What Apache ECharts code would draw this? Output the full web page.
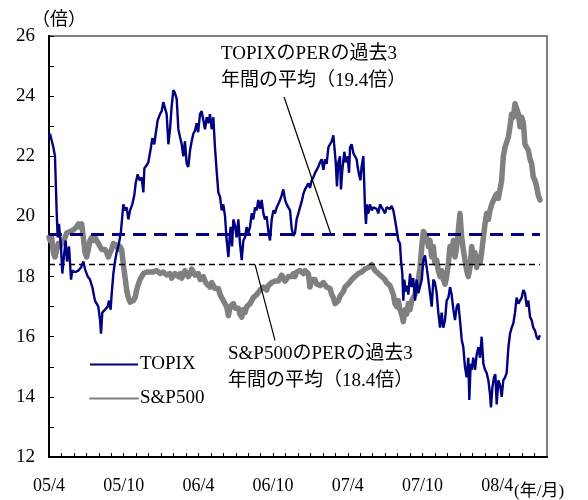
<!DOCTYPE html>
<html>
<head>
<meta charset="utf-8">
<script src="https://cdn.jsdelivr.net/npm/echarts@6/dist/echarts.min.js"></script>
<style>
  html, body { margin: 0; padding: 0; background: #fff; }
  #chart { width: 588px; height: 500px; }
</style>
</head>
<body>
<div id="chart"></div>
<script>
// Forward P/E ratios (times), x = months elapsed since April 2005
const topixPER = [
  [0.0,22.6],[0.08,22.75],[0.21,22.8],[0.35,22.3],[0.48,22.0],[0.62,20.1],[0.70,19.3],[0.80,19.75],[0.96,19.0],[1.07,18.1],
  [1.23,18.8],[1.34,19.2],[1.45,18.5],[1.61,19.0],[1.77,17.9],[1.87,18.2],[2.09,18.15],[2.36,18.2],[2.57,18.3],[2.76,18.5],
  [2.89,18.25],[3.11,18.0],[3.29,17.9],[3.48,17.65],[3.69,17.2],[3.83,17.1],[3.96,17.0],[4.10,16.55],[4.18,16.1],[4.28,16.8],
  [4.50,16.9],[4.71,17.0],[4.82,17.2],[4.95,16.9],[5.03,17.4],[5.17,18.1],[5.30,18.5],[5.43,18.8],[5.62,19.1],[5.78,19.5],
  [5.97,20.4],[6.10,20.2],[6.24,20.3],[6.37,19.9],[6.51,20.2],[6.69,20.4],[6.85,20.7],[6.96,21.1],[7.12,21.4],[7.28,21.2],
  [7.44,21.3],[7.58,20.8],[7.66,21.6],[7.84,21.7],[7.98,21.8],[8.19,22.3],[8.30,22.6],[8.46,22.4],[8.57,22.75],[8.73,23.2],
  [8.92,23.4],[9.05,23.5],[9.18,23.8],[9.32,23.75],[9.45,23.4],[9.59,22.4],[9.72,22.9],[9.85,23.65],[9.99,24.2],[10.12,24.1],
  [10.26,23.9],[10.39,22.9],[10.52,22.65],[10.66,22.4],[10.79,22.0],[10.92,22.5],[11.06,21.75],[11.19,21.65],[11.33,22.2],[11.46,22.5],
  [11.59,22.75],[11.73,22.85],[11.86,23.1],[11.98,22.8],[12.13,23.4],[12.26,23.5],[12.40,23.2],[12.53,22.9],[12.67,23.3],[12.80,23.1],
  [12.93,23.4],[13.07,22.9],[13.20,23.3],[13.33,22.3],[13.47,21.5],[13.60,20.8],[13.74,20.65],[13.87,20.2],[14.0,20.4],[14.14,20.0],
  [14.27,19.2],[14.41,18.65],[14.49,19.2],[14.59,19.65],[14.70,19.0],[14.81,19.9],[14.94,19.7],[15.07,19.3],[15.21,19.9],[15.34,19.1],
  [15.48,18.55],[15.61,19.2],[15.74,19.3],[15.88,19.65],[16.01,19.45],[16.15,19.65],[16.28,20.1],[16.41,19.9],[16.55,20.3],[16.68,20.2],
  [16.81,20.55],[16.95,20.25],[17.08,20.55],[17.22,20.1],[17.35,19.9],[17.48,20.0],[17.62,19.5],[17.75,19.2],[17.89,19.9],[18.02,20.2],
  [18.15,20.1],[18.29,20.3],[18.42,20.35],[18.56,20.55],[18.69,20.7],[18.82,20.9],[18.96,20.55],[19.09,20.4],[19.22,20.3],[19.36,20.2],
  [19.49,19.6],[19.63,19.35],[19.76,19.45],[19.89,19.9],[20.03,20.1],[20.16,20.3],[20.30,20.5],[20.43,20.75],[20.56,20.9],[20.70,21.0],
  [20.83,21.1],[20.96,20.95],[21.10,21.2],[21.23,21.3],[21.37,21.45],[21.50,21.55],[21.63,21.65],[21.77,21.8],[21.90,21.9],[22.04,21.55],
  [22.17,21.9],[22.30,21.75],[22.44,22.3],[22.57,22.4],[22.71,22.5],[22.84,22.7],[22.92,22.65],[23.03,21.8],[23.13,21.0],[23.24,21.8],
  [23.37,22.0],[23.45,20.9],[23.56,21.55],[23.72,22.15],[23.83,21.8],[23.99,22.0],[24.10,21.45],[24.18,22.3],[24.31,22.4],[24.45,22.1],
  [24.58,22.0],[24.71,21.9],[24.79,21.65],[24.90,21.4],[25.01,21.2],[25.11,21.65],[25.25,22.0],[25.38,20.3],[25.46,19.75],[25.54,20.4],
  [25.65,20.1],[25.78,20.4],[25.92,20.2],[26.05,20.3],[26.19,20.3],[26.32,20.25],[26.45,20.1],[26.59,20.4],[26.72,20.3],[26.86,20.2],
  [26.99,20.1],[27.12,20.3],[27.26,20.35],[27.39,20.25],[27.52,20.35],[27.66,20.2],[27.79,19.9],[27.93,19.55],[28.06,19.2],[28.19,19.1],
  [28.27,18.55],[28.38,18.1],[28.46,17.2],[28.54,17.9],[28.65,17.5],[28.76,17.7],[28.86,17.4],[29.0,18.1],[29.13,17.65],[29.26,17.95],
  [29.40,17.2],[29.53,17.9],[29.67,17.45],[29.80,17.4],[29.94,17.9],[30.07,18.55],[30.2,18.7],[30.34,18.3],[30.47,17.9],[30.60,17.45],
  [30.74,17.0],[30.87,17.9],[31.0,17.8],[31.14,17.45],[31.27,16.8],[31.41,16.3],[31.54,16.8],[31.67,16.3],[31.81,16.55],[31.94,17.2],
  [32.08,17.3],[32.21,17.65],[32.34,17.4],[32.48,16.9],[32.61,16.55],[32.75,17.0],[32.88,17.1],[33.01,16.55],[33.15,15.9],[33.28,15.65],
  [33.41,15.0],[33.55,14.65],[33.68,15.3],[33.76,13.9],[33.87,15.1],[33.95,14.9],[34.08,15.3],[34.22,14.9],[34.35,15.4],[34.49,15.65],
  [34.62,15.3],[34.75,16.0],[34.89,15.1],[35.02,14.9],[35.15,14.8],[35.29,14.55],[35.42,14.1],[35.50,13.65],[35.61,14.3],[35.74,14.65],
  [35.85,14.75],[35.96,13.75],[36.09,14.55],[36.23,14.4],[36.36,14.0],[36.49,14.55],[36.63,14.65],[36.76,14.8],[36.90,15.65],[37.03,16.1],
  [37.16,16.3],[37.30,16.45],[37.43,16.8],[37.56,17.3],[37.70,17.1],[37.83,17.2],[37.97,17.3],[38.10,17.55],[38.23,17.45],[38.37,17.0],
  [38.50,17.2],[38.64,16.65],[38.77,16.55],[38.90,16.3],[39.04,16.2],[39.17,15.99],[39.30,15.9],[39.38,16.0],[39.44,16.05]
];

const sp500PER = [
  [0.0,19.3],[0.08,19.2],[0.21,19.3],[0.35,18.8],[0.48,18.65],[0.62,18.9],[0.75,19.1],[0.88,19.0],[1.02,19.1],[1.15,19.2],
  [1.29,19.3],[1.42,19.45],[1.55,19.45],[1.69,19.5],[1.82,19.5],[1.95,19.55],[2.09,19.6],[2.22,19.65],[2.36,19.75],[2.49,19.65],
  [2.62,19.75],[2.76,19.3],[2.89,18.8],[3.03,18.65],[3.16,18.9],[3.29,19.2],[3.43,19.3],[3.56,19.2],[3.69,19.3],[3.83,19.2],
  [3.96,19.1],[4.10,19.0],[4.23,18.9],[4.36,18.95],[4.50,18.9],[4.63,18.8],[4.77,18.65],[4.90,18.8],[5.03,18.9],[5.17,19.1],
  [5.30,19.15],[5.43,19.05],[5.57,18.9],[5.70,19.0],[5.84,18.9],[5.97,18.4],[6.10,18.0],[6.24,17.55],[6.37,17.3],[6.51,17.15],
  [6.64,17.15],[6.77,17.2],[6.91,17.3],[7.04,17.55],[7.18,17.75],[7.31,17.9],[7.44,18.0],[7.58,18.1],[7.71,18.05],[7.84,18.15],
  [7.98,18.2],[8.11,18.15],[8.25,18.1],[8.38,18.15],[8.51,18.1],[8.65,18.2],[8.78,18.15],[8.92,18.1],[9.05,18.05],[9.18,18.15],
  [9.32,18.1],[9.45,18.05],[9.59,18.0],[9.72,18.1],[9.85,17.95],[9.99,17.95],[10.12,18.1],[10.26,18.15],[10.39,18.0],[10.52,18.1],
  [10.66,17.95],[10.79,18.0],[10.92,18.2],[11.06,18.15],[11.19,18.0],[11.33,18.1],[11.46,18.25],[11.59,18.2],[11.73,18.05],[11.86,18.0],
  [11.99,18.1],[12.13,17.9],[12.26,17.85],[12.40,18.0],[12.53,17.85],[12.67,17.75],[12.80,17.8],[12.93,17.65],[13.07,17.8],[13.20,17.75],
  [13.33,17.6],[13.47,17.55],[13.60,17.6],[13.74,17.4],[13.87,17.3],[14.0,17.2],[14.14,17.25],[14.27,17.0],[14.41,16.7],[14.54,17.0],
  [14.67,16.95],[14.81,17.1],[14.94,16.95],[15.07,16.9],[15.21,16.95],[15.34,16.75],[15.48,16.65],[15.61,16.9],[15.74,16.8],[15.88,17.0],
  [16.01,16.95],[16.15,17.1],[16.28,17.2],[16.41,17.3],[16.55,17.25],[16.68,17.4],[16.81,17.45],[16.95,17.55],[17.08,17.5],[17.22,17.65],
  [17.35,17.6],[17.48,17.55],[17.62,17.7],[17.75,17.65],[17.89,17.8],[18.02,17.75],[18.15,17.85],[18.29,17.9],[18.42,17.85],[18.56,17.95],
  [18.69,18.05],[18.82,18.0],[18.96,17.85],[19.09,17.9],[19.22,18.0],[19.36,18.05],[19.49,18.0],[19.63,18.1],[19.76,18.0],[19.89,18.15],
  [20.03,18.1],[20.16,18.2],[20.30,18.15],[20.43,18.1],[20.56,18.2],[20.70,18.15],[20.83,18.1],[20.96,17.65],[21.10,17.9],[21.23,17.85],
  [21.37,17.9],[21.50,17.75],[21.63,17.8],[21.77,17.7],[21.90,17.65],[22.04,17.8],[22.17,17.75],[22.30,17.65],[22.44,17.7],[22.57,17.6],
  [22.71,17.4],[22.84,17.3],[22.97,17.1],[23.10,17.15],[23.24,17.2],[23.37,17.35],[23.51,17.4],[23.64,17.5],[23.78,17.65],[23.91,17.6],
  [24.04,17.75],[24.18,17.8],[24.31,17.9],[24.45,17.85],[24.58,18.0],[24.71,18.05],[24.85,18.1],[24.98,18.05],[25.11,18.15],[25.25,18.2],
  [25.38,18.25],[25.51,18.2],[25.65,18.3],[25.78,18.35],[25.92,18.4],[26.05,18.3],[26.19,18.2],[26.32,18.25],[26.45,18.1],[26.59,18.05],
  [26.72,18.0],[26.86,17.95],[26.99,17.9],[27.12,17.8],[27.26,17.75],[27.39,17.7],[27.52,17.65],[27.66,17.4],[27.79,17.1],[27.93,17.0],
  [28.06,17.2],[28.19,16.9],[28.33,16.75],[28.46,16.5],[28.60,16.9],[28.73,16.75],[28.86,17.1],[29.0,16.9],[29.13,17.2],[29.26,17.3],
  [29.40,17.4],[29.53,17.65],[29.67,17.9],[29.80,18.3],[29.94,19.0],[30.07,19.5],[30.2,19.45],[30.34,19.3],[30.47,19.0],[30.60,19.2],
  [30.74,18.65],[30.87,19.0],[31.0,18.45],[31.14,18.55],[31.27,18.2],[31.41,18.0],[31.54,18.2],[31.67,17.9],[31.81,17.75],[31.94,18.0],
  [32.08,18.45],[32.21,19.0],[32.34,18.75],[32.48,19.2],[32.61,18.65],[32.75,19.0],[32.88,19.55],[33.01,20.1],[33.15,19.3],[33.28,18.9],
  [33.41,18.55],[33.55,18.2],[33.68,18.0],[33.82,18.3],[33.95,19.0],[34.08,18.65],[34.22,18.8],[34.35,18.3],[34.49,18.65],[34.62,18.45],
  [34.75,18.8],[34.89,19.3],[35.02,19.75],[35.15,20.1],[35.29,19.9],[35.42,20.2],[35.56,20.4],[35.69,20.4],[35.82,20.65],[35.96,20.75],
  [36.09,20.6],[36.23,20.9],[36.36,21.2],[36.49,22.0],[36.63,22.3],[36.76,22.3],[36.90,22.65],[37.03,23.0],[37.16,23.4],[37.30,23.3],
  [37.43,23.75],[37.56,23.8],[37.70,23.4],[37.83,22.98],[37.97,23.3],[38.10,23.1],[38.23,22.4],[38.37,22.3],[38.50,22.2],[38.64,21.9],
  [38.77,21.75],[38.90,21.3],[39.04,21.2],[39.17,20.98],[39.30,20.7],[39.44,20.55]
];

// Three-year averages quoted in the notes
const topixAvg = 19.4;
const sp500Avg = 18.4;

// Leader lines from each note to its average line: [month, value] endpoints
const topixLeader = [[18.88, 23.97], [22.65, topixAvg]];
const sp500Leader = [[16.55, sp500Avg], [18.15, 15.88]];

const seriesNames = ['TOPIX', 'S&P500'];
const noteTexts = ['TOPIXのPERの過去3\n年間の平均（19.4倍）', 'S&P500のPERの過去3\n年間の平均（18.4倍）'];
const xTickLabels = ['05/4', '05/10', '06/4', '06/10', '07/4', '07/10', '08/4'];
const yUnit = '（倍）';
const xUnit = '(年/月)';

const FONT = "'Times New Roman', 'Liberation Serif', 'Noto Sans CJK JP', serif";
const lastMonth = topixPER[topixPER.length - 1][0];

const chart = echarts.init(document.getElementById('chart'), null, { renderer: 'canvas' });

chart.setOption({
  animation: false,
  backgroundColor: '#ffffff',
  grid: {
    left: 49, right: 41, top: 36, bottom: 43,
    show: true, borderColor: '#808080', borderWidth: 2, backgroundColor: 'transparent'
  },
  xAxis: {
    type: 'value', min: 0, max: 40, interval: 1,
    axisLine: { show: true, onZero: false, lineStyle: { color: '#000', width: 2 } },
    axisTick: { show: true, inside: true, length: 4, lineStyle: { color: '#000', width: 1 } },
    axisLabel: {
      show: true, margin: 20, fontSize: 18, fontFamily: FONT, color: '#000',
      showMaxLabel: false,
      formatter: function (v) {
        if (v % 6 !== 0) return '';
        const k = v / 6;
        return k < xTickLabels.length ? xTickLabels[k] : '';
      }
    },
    splitLine: { show: false }
  },
  yAxis: {
    type: 'value', min: 12, max: 26, interval: 1,
    axisLine: { show: true, lineStyle: { color: '#000', width: 2 } },
    axisTick: { show: true, inside: true, length: 5, lineStyle: { color: '#000', width: 1 } },
    axisLabel: {
      margin: 14, fontSize: 19, fontFamily: FONT, color: '#000',
      formatter: function (v) { return v % 2 === 0 ? String(v) : ''; }
    },
    splitLine: { show: false }
  },
  legend: {
    data: seriesNames,
    orient: 'vertical',
    left: 84, top: 350,
    itemWidth: 48, itemHeight: 16, itemGap: 15,
    itemStyle: { opacity: 0 },
    textStyle: { fontSize: 19, fontFamily: FONT, color: '#000', padding: [0, 0, 0, -3] },
    selectedMode: false
  },
  series: [
    {
      name: 'S&P500', type: 'line', data: sp500PER, showSymbol: false, symbol: 'none',
      lineStyle: { color: '#808080', width: 5.5, cap: 'round', join: 'round' },
      itemStyle: { color: '#808080' }, z: 2
    },
    {
      name: 'sp500Avg', type: 'line', data: [[0, sp500Avg], [lastMonth, sp500Avg]],
      showSymbol: false, symbol: 'none', silent: true,
      lineStyle: { color: '#000', width: 1.5, type: [6, 4] }, z: 3,
      markLine: {
        silent: true, symbol: 'none', label: { show: false },
        lineStyle: { color: '#000', width: 1.2, type: 'solid' },
        data: [[{ coord: sp500Leader[0] }, { coord: sp500Leader[1] }]]
      }
    },
    {
      name: 'topixAvg', type: 'line', data: [[0, topixAvg], [lastMonth, topixAvg]],
      showSymbol: false, symbol: 'none', silent: true,
      lineStyle: { color: '#000080', width: 3, type: [13, 8] }, z: 3,
      markLine: {
        silent: true, symbol: 'none', label: { show: false },
        lineStyle: { color: '#000', width: 1.2, type: 'solid' },
        data: [[{ coord: topixLeader[0] }, { coord: topixLeader[1] }]]
      }
    },
    {
      name: 'TOPIX', type: 'line', data: topixPER, showSymbol: false, symbol: 'none',
      lineStyle: { color: '#000080', width: 2.4 },
      itemStyle: { color: '#000080' }, z: 4
    }
  ],
  graphic: [
    {
      type: 'text', left: 32, top: 11,
      style: { text: yUnit, font: '18px ' + FONT, fill: '#000' }
    },
    {
      type: 'text', left: 514, top: 483,
      style: { text: xUnit, font: '17px ' + FONT, fill: '#000' }
    },
    {
      type: 'text', left: 221, top: 41,
      style: { text: noteTexts[0], font: '19px ' + FONT, lineHeight: 27, fill: '#000' }
    },
    {
      type: 'text', left: 228, top: 341,
      style: { text: noteTexts[1], font: '19px ' + FONT, lineHeight: 27, fill: '#000' }
    }
  ]
});
</script>
</body>
</html>
